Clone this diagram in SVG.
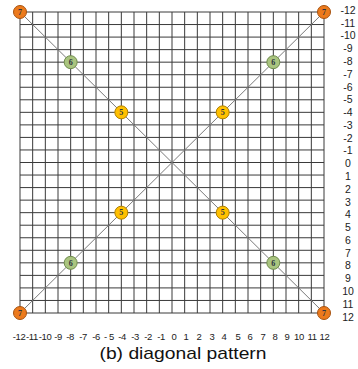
<svg xmlns="http://www.w3.org/2000/svg" width="358" height="369" viewBox="0 0 358 369">
<style>
.grid{stroke:#3a3a3a;stroke-width:1;fill:none}
.diag{stroke:#7a7a7a;stroke-width:1;fill:none}
.ax{font-family:"Liberation Sans",Arial,sans-serif;font-size:10.5px;fill:#222;text-anchor:middle}
.bx{font-family:"Liberation Sans",Arial,sans-serif;font-size:9.5px;fill:#222;text-anchor:middle;letter-spacing:-0.4px}
.title{font-family:"Liberation Sans",Arial,sans-serif;font-size:17px;fill:#111;text-anchor:middle}
.n7{fill:#ec7a1c;stroke:#a65210;stroke-width:1}
.n6{fill:#a9c47f;stroke:#6f8c4c;stroke-width:1}
.n5{fill:#ffc000;stroke:#b08000;stroke-width:1}
.nt{font-family:"Liberation Serif",serif;font-size:8px;font-weight:bold;fill:#2b3340;text-anchor:middle}
</style>
<rect width="358" height="369" fill="#fff"/>
<g id="grid">
<path class="grid" d="M20 12V313M32.67 12V313M45.33 12V313M58 12V313M70.67 12V313M83.33 12V313M96 12V313M108.67 12V313M121.33 12V313M134 12V313M146.67 12V313M159.33 12V313M172 12V313M184.67 12V313M197.33 12V313M210 12V313M222.67 12V313M235.33 12V313M248 12V313M260.67 12V313M273.33 12V313M286 12V313M298.67 12V313M311.33 12V313M324 12V313"/>
<path class="grid" d="M20 12H324M20 24.54H324M20 37.08H324M20 49.63H324M20 62.17H324M20 74.71H324M20 87.25H324M20 99.79H324M20 112.33H324M20 124.88H324M20 137.42H324M20 149.96H324M20 162.5H324M20 175.04H324M20 187.58H324M20 200.13H324M20 212.67H324M20 225.21H324M20 237.75H324M20 250.29H324M20 262.83H324M20 275.38H324M20 287.92H324M20 300.46H324M20 313H324"/>
</g>
<g id="connectors">
<line class="diag" x1="20" y1="12" x2="324" y2="313"/>
<line class="diag" x1="324" y1="12" x2="20" y2="313"/>
</g>
<g id="node-tl7"><circle class="n7" cx="20" cy="12" r="6.5"/><text class="nt" x="20" y="14.8">7</text></g>
<g id="node-tr7"><circle class="n7" cx="324" cy="12" r="6.5"/><text class="nt" x="324" y="14.8">7</text></g>
<g id="node-bl7"><circle class="n7" cx="20" cy="313" r="6.5"/><text class="nt" x="20" y="315.8">7</text></g>
<g id="node-br7"><circle class="n7" cx="324" cy="313" r="6.5"/><text class="nt" x="324" y="315.8">7</text></g>
<g id="node-tl6"><circle class="n6" cx="70.67" cy="62.17" r="6.5"/><text class="nt" x="70.67" y="64.97">6</text></g>
<g id="node-tr6"><circle class="n6" cx="273.33" cy="62.17" r="6.5"/><text class="nt" x="273.33" y="64.97">6</text></g>
<g id="node-bl6"><circle class="n6" cx="70.67" cy="262.83" r="6.5"/><text class="nt" x="70.67" y="265.63">6</text></g>
<g id="node-br6"><circle class="n6" cx="273.33" cy="262.83" r="6.5"/><text class="nt" x="273.33" y="265.63">6</text></g>
<g id="node-tl5"><circle class="n5" cx="121.33" cy="112.33" r="6.5"/><text class="nt" x="121.33" y="115.13">5</text></g>
<g id="node-tr5"><circle class="n5" cx="222.67" cy="112.33" r="6.5"/><text class="nt" x="222.67" y="115.13">5</text></g>
<g id="node-bl5"><circle class="n5" cx="121.33" cy="212.67" r="6.5"/><text class="nt" x="121.33" y="215.47">5</text></g>
<g id="node-br5"><circle class="n5" cx="222.67" cy="212.67" r="6.5"/><text class="nt" x="222.67" y="215.47">5</text></g>
<g id="y-axis">
<text class="ax" x="348" y="13.8">-12</text>
<text class="ax" x="348" y="26.6">-11</text>
<text class="ax" x="348" y="39.4">-10</text>
<text class="ax" x="348" y="52.1">-9</text>
<text class="ax" x="348" y="64.9">-8</text>
<text class="ax" x="348" y="77.7">-7</text>
<text class="ax" x="348" y="90.5">-6</text>
<text class="ax" x="348" y="103.3">-5</text>
<text class="ax" x="348" y="116.0">-4</text>
<text class="ax" x="348" y="128.8">-3</text>
<text class="ax" x="348" y="141.6">-2</text>
<text class="ax" x="348" y="154.4">-1</text>
<text class="ax" x="348" y="167.2">0</text>
<text class="ax" x="348" y="179.9">1</text>
<text class="ax" x="348" y="192.7">2</text>
<text class="ax" x="348" y="205.5">3</text>
<text class="ax" x="348" y="218.3">4</text>
<text class="ax" x="348" y="231.1">5</text>
<text class="ax" x="348" y="243.8">6</text>
<text class="ax" x="348" y="256.6">7</text>
<text class="ax" x="348" y="269.4">8</text>
<text class="ax" x="348" y="282.2">9</text>
<text class="ax" x="348" y="295.0">10</text>
<text class="ax" x="348" y="307.7">11</text>
<text class="ax" x="348" y="320.5">12</text>
</g>
<g id="x-axis">
<text class="bx" x="19" y="340">-12</text>
<text class="bx" x="32" y="340">-11</text>
<text class="bx" x="45" y="340">-10</text>
<text class="bx" x="58" y="340">-9</text>
<text class="bx" x="70" y="340">-8</text>
<text class="bx" x="83" y="340">-7</text>
<text class="bx" x="96" y="340">-6</text>
<text class="bx" x="109" y="340">- 5</text>
<text class="bx" x="122" y="340">-4</text>
<text class="bx" x="135" y="340">-3</text>
<text class="bx" x="148" y="340">-2</text>
<text class="bx" x="161" y="340">-1</text>
<text class="bx" x="174" y="340">0</text>
<text class="bx" x="186" y="340">1</text>
<text class="bx" x="199" y="340">2</text>
<text class="bx" x="212" y="340">3</text>
<text class="bx" x="224" y="340">4</text>
<text class="bx" x="238" y="340">5</text>
<text class="bx" x="250" y="340">6</text>
<text class="bx" x="263" y="340">7</text>
<text class="bx" x="275" y="340">8</text>
<text class="bx" x="287" y="340">9</text>
<text class="bx" x="299" y="340">10</text>
<text class="bx" x="312" y="340">11</text>
<text class="bx" x="324.5" y="340">12</text>
</g>
<text class="title" x="183" y="359" textLength="167" lengthAdjust="spacingAndGlyphs">(b) diagonal pattern</text>
</svg>
